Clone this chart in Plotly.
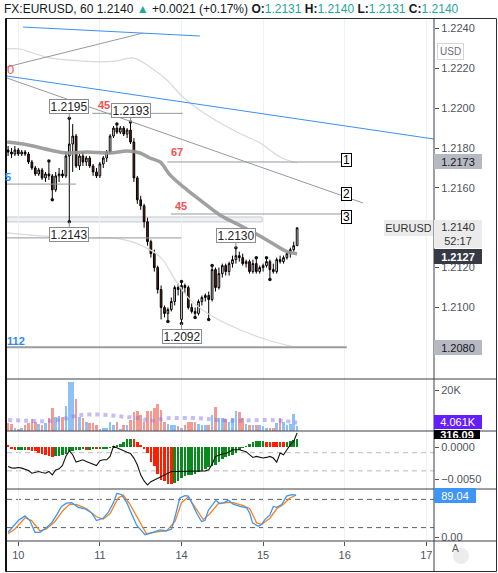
import plotly.graph_objects as go

FONT = "Liberation Sans, Arial, sans-serif"
TXT = "#50535e"
GRID = "#eef0f3"
TEAL = "#26a69a"
RED_LBL = "#f0524f"
BLUE_LBL = "#2f8af5"

# ---------------- EURUSD hourly candles (hour 0 = 10 Dec, 00:00) ----------------
hours = list(range(-3, 83))
opens = [1.2179, 1.2178, 1.2177, 1.2179, 1.2177, 1.2178, 1.2177, 1.2173, 1.2170, 1.2167,
         1.2169, 1.2165, 1.2167, 1.2166, 1.2159, 1.2166, 1.2167, 1.2166, 1.2176, 1.2182,
         1.2186, 1.2171, 1.2176, 1.2173, 1.2175, 1.2171, 1.2168, 1.2166, 1.2172, 1.2175,
         1.2178, 1.2186, 1.2190, 1.2188, 1.2190, 1.2187, 1.2189, 1.2183, 1.2165, 1.2154,
         1.2151, 1.2143, 1.2133, 1.2127, 1.2120, 1.2109, 1.2100, 1.2097, 1.2099, 1.2103,
         1.2110, 1.2094, 1.2111, 1.2110, 1.2100, 1.2098, 1.2097, 1.2103, 1.2105, 1.2106,
         1.2104, 1.2119, 1.2110, 1.2117, 1.2121, 1.2118, 1.2122, 1.2124, 1.2126, 1.2125,
         1.2122, 1.2123, 1.2118, 1.2122, 1.2118, 1.2120, 1.2121, 1.2123, 1.2119, 1.2118,
         1.2124, 1.2123, 1.2125, 1.2127, 1.2129, 1.2131]
highs = [1.2181, 1.2180, 1.2181, 1.2180, 1.2179, 1.2179, 1.2178, 1.2174, 1.2171, 1.2170,
         1.2170, 1.2168, 1.21735, 1.2167, 1.2168, 1.2170, 1.2169, 1.2178, 1.2195, 1.2192,
         1.2187, 1.2177, 1.2178, 1.2176, 1.2176, 1.2172, 1.2170, 1.2173, 1.2176, 1.2179,
         1.2187, 1.2191, 1.2192, 1.2191, 1.2191, 1.2190, 1.2193, 1.2185, 1.2166, 1.2156,
         1.2152, 1.2145, 1.2134, 1.2129, 1.2121, 1.2111, 1.2101, 1.2100, 1.2105, 1.2111,
         1.2112, 1.2113, 1.2112, 1.2111, 1.2102, 1.2100, 1.2104, 1.2106, 1.2107, 1.2108,
         1.2121, 1.2120, 1.2120, 1.2122, 1.2122, 1.2123, 1.2126, 1.2130, 1.2128, 1.2127,
         1.2124, 1.2124, 1.2124, 1.2125, 1.2121, 1.2122, 1.2125, 1.2124, 1.2122, 1.2125,
         1.2126, 1.2126, 1.2128, 1.2130, 1.2133, 1.2140]
lows = [1.2176, 1.2175, 1.2176, 1.2176, 1.2176, 1.2176, 1.2172, 1.2169, 1.2166, 1.2166,
        1.2164, 1.2163, 1.2164, 1.2154, 1.2158, 1.2163, 1.2165, 1.2165, 1.2143, 1.2168,
        1.2170, 1.2169, 1.2171, 1.2171, 1.2170, 1.2166, 1.2165, 1.2165, 1.2170, 1.2173,
        1.2177, 1.2185, 1.2187, 1.2187, 1.2186, 1.2185, 1.2182, 1.2163, 1.2152, 1.2149,
        1.2140, 1.2131, 1.2125, 1.2118, 1.2107, 1.2094, 1.2095, 1.2093, 1.2098, 1.2101,
        1.2106, 1.2092, 1.2107, 1.2099, 1.2097, 1.2095, 1.2096, 1.2101, 1.2103, 1.2094,
        1.2103, 1.2108, 1.2109, 1.2115, 1.2116, 1.2116, 1.2120, 1.2122, 1.2123, 1.2121,
        1.2120, 1.2117, 1.2117, 1.2117, 1.2117, 1.2118, 1.2120, 1.2114, 1.2117, 1.2117,
        1.2122, 1.2122, 1.2124, 1.2125, 1.2128, 1.2131]
closes = [1.2178, 1.2177, 1.2179, 1.2177, 1.2178, 1.2177, 1.2173, 1.2170, 1.2167, 1.2169,
          1.2165, 1.2167, 1.2166, 1.2159, 1.2166, 1.2167, 1.2166, 1.2176, 1.2182, 1.2186,
          1.2171, 1.2176, 1.2173, 1.2175, 1.2171, 1.2168, 1.2166, 1.2172, 1.2175, 1.2178,
          1.2186, 1.2190, 1.2188, 1.2190, 1.2187, 1.2189, 1.2183, 1.2165, 1.2154, 1.2151,
          1.2143, 1.2133, 1.2127, 1.2120, 1.2109, 1.2100, 1.2097, 1.2099, 1.2103, 1.2110,
          1.2109, 1.2111, 1.2110, 1.2100, 1.2098, 1.2097, 1.2103, 1.2105, 1.2106, 1.2104,
          1.2119, 1.2110, 1.2117, 1.2121, 1.2118, 1.2122, 1.2124, 1.2126, 1.2125, 1.2122,
          1.2123, 1.2118, 1.2122, 1.2118, 1.2120, 1.2121, 1.2123, 1.2119, 1.2118, 1.2124,
          1.2123, 1.2125, 1.2127, 1.2129, 1.2131, 1.2140]
prev_day_close = 1.2119

# moving average and bands (hour, price)
ma_hours = [-3.3, 2.9, 9.3, 14.3, 20.2, 27, 32, 35.8, 38.7, 41.7, 44.6, 49.6, 53.4, 59.3, 66.1, 73.1, 79, 82]
ma_values = [1.2183, 1.21815, 1.2179, 1.21775, 1.2178, 1.21775, 1.21785, 1.21775, 1.2175, 1.2173,
             1.21665, 1.2159, 1.2154, 1.21464, 1.21404, 1.21339, 1.2128, 1.2127]
bb_up_hours = [-3.3, 0.5, 4.3, 9.3, 14.3, 24, 29, 33.7, 38.7, 43.7, 48.4, 53.4, 63.1, 71.1, 77, 82]
bb_up = [1.22297, 1.22297, 1.22277, 1.22252, 1.22242, 1.22232, 1.22237, 1.22252, 1.22207, 1.22141,
         1.22056, 1.2199, 1.2189, 1.21825, 1.21755, 1.21725]
bb_lo_hours = [-3.3, 6.4, 18.1, 29.9, 35.8, 41.7, 46.7, 50.6, 57.3, 65.2, 73.1, 82]
bb_lo = [1.21374, 1.21359, 1.21349, 1.21344, 1.21314, 1.21254, 1.21124, 1.21038, 1.20953, 1.20888,
         1.20838, 1.20798]

# volume (thousands) and its average
volume_k = [3.7, 3.3, 1.3, 1.0, 1.3, 2.9, 3.7, 5.7, 4.6, 3.3,
            2.9, 3.7, 6.5, 11.0, 7.0, 7.5, 6.7, 12.4, 23.7, 23.7,
            15.6, 7.0, 6.5, 4.6, 3.7, 3.7, 2.9, 1.0, 1.6, 1.6,
            4.6, 2.9, 4.6, 0.5, 2.9, 2.9, 5.4, 9.4, 9.8, 7.8,
            4.6, 9.8, 9.8, 11.0, 13.0, 10.2, 4.6, 3.3, 2.9, 2.9,
            2.6, 1.3, 2.9, 4.6, 4.6, 4.6, 3.3, 2.9, 2.9, 2.9,
            7.8, 11.9, 6.5, 6.2, 5.9, 4.6, 6.5, 9.8, 9.1, 6.2,
            3.3, 2.9, 2.9, 2.9, 2.9, 2.4, 1.6, 1.6, 1.3, 3.7,
            6.2, 4.6, 2.9, 3.3, 8.1, 2.6]
vol_ma_hours = [-3, 4.4, 9.3, 14.2, 17.2, 21.1, 26, 30.9, 35.8, 38.7, 43.6, 53.4, 58.3, 63.2, 73, 77.9, 82]
vol_ma_k = [5.4, 4.9, 4.9, 6.2, 7.5, 8.1, 7.8, 7.0, 6.2, 5.0, 6.2, 6.2, 5.4, 5.0, 5.4, 5.0, 4.061]

# MACD histogram (x 1e-4) and CCI
macd_hist_e4 = [3, -3, -4.5, -4.5, -4.2, -4, -4.5, -6, -7, -9,
                -11, -13, -14, -15, -14.5, -14, -13, -11, -7, -6,
                -5, -4, -3, -4.5, -4, -3.5, -3.8, -3.5, -3, -2,
                -1, 1, 3, 5, 8, 12, 12.5, 12.3, 8, 3,
                -2, -9, -23, -30, -42, -51, -53, -58, -58.5, -56,
                -53, -49, -46, -44, -43, -42, -39, -37, -35, -32,
                -30, -28, -23, -19, -16, -14, -12, -9, -4, -1.5,
                1.5, 5, 8, 9, 9.2, 9.4, 8.4, 8.2, 8.0, 7.8,
                7.6, 7.2, 8, 9.5, 11, 12.5]
cci = [-52, -67, -70, -63, -70, -81, -96, -126, -118, -107,
       -118, -126, -107, -144, -89, -78, -41, 59, 122, 78,
       -4, 11, 22, 4, -11, -26, -41, 11, 22, 22,
       59, 170, 152, 133, 115, 104, 92, 41, -33, -144,
       -211, -256, -219, -200, -181, -163, -137, -118, -107, -107,
       -107, -107, -107, -107, -107, -107, -107, -105, -100, -89,
       -26, 59, 74, 85, 92, 107, 133, 133, 133, 122,
       111, 78, 48, 59, 48, 41, 48, 59, 41, -4,
       96, 78, 133, 189, 226, 316.09]

# stochastic %K / %D
stoch_k_hours = [-3.0, -1.5, 0, 2, 3.4, 4.9, 6.4, 8.3, 9.8, 11.3, 12.7, 14.2, 15.7, 17.6, 19.6, 21.6,
                 23, 25, 26.5, 28, 29, 30.4, 31.9, 33.3, 34.8, 36.3, 37.3, 39.2, 41.7, 43.6, 45.1,
                 46.1, 47.5, 49, 50, 51, 52.5, 53.9, 54.9, 55.9, 56.9, 58.1, 59.3, 60.5, 61.8, 63.2,
                 65.2, 67.2, 68.1, 68.9, 70.6, 71.6, 72.5, 74, 75, 76, 77.5, 78.9, 80.4, 81.7]
stoch_k = [10, 23, 35, 45, 35, 10, 10, 20, 30, 47, 65, 72, 73, 63, 60, 51,
           35, 40, 53, 73, 93, 90, 73, 50, 25, 13, 5, 9, 15, 13, 17,
           43, 83, 88, 87, 73, 50, 33, 35, 57, 67, 78, 71, 73, 78, 70,
           65, 62, 50, 30, 23, 27, 37, 47, 65, 63, 69, 87, 90, 89.04]
stoch_d_hours = [-3.0, -1.0, 2.0, 3.9, 6.4, 8.3, 10.8, 13.2, 15.2, 17.2, 20.1, 23.0, 25.0, 27.0,
                 29.4, 30.9, 32.8, 35.3, 37.7, 40.7, 43.6, 46.1, 48.0, 50.0, 52.0, 54.4, 56.4,
                 58.8, 61.3, 63.2, 66.2, 68.1, 70.1, 71.6, 74.0, 76.0, 77.9, 79.9, 81.7]
stoch_d = [7, 17, 41, 35, 13, 17, 33, 57, 70, 69, 60, 43, 38, 50,
           83, 89, 70, 37, 7, 11, 13, 33, 73, 85, 63, 37, 50,
           71, 73, 73, 67, 60, 30, 27, 40, 60, 69, 83, 89]

# axis ticks
day_ticks = [0, 24, 48, 72, 96, 120]
day_labels = ["10", "11", "14", "15", "16", "17"]
price_ticks = [1.2080, 1.2100, 1.2120, 1.2140, 1.2160, 1.2180, 1.2200, 1.2220, 1.2240]

# chart drawings in (hour, price)
trend_lines = [
    (1.4, 1.22407, 53.4, 1.22362, "#3d8ff2", 1),
    (-3.3, 1.22207, 36.7, 1.22377, "#9598a1", 1),
    (-3.3, 1.22161, 122.3, 1.21845, "#3d8ff2", 1),
    (-3.3, 1.22151, 101.4, 1.21524, "#9598a1", 1),
    (21.7, 1.21974, 48.4, 1.21974, "#9598a1", 1),
    (43.8, 1.2173, 95.2, 1.2173, "#9598a1", 1),
    (44.9, 1.21469, 95.5, 1.21469, "#9598a1", 1),
    (-3.3, 1.21619, 17.0, 1.21619, "#9598a1", 1),
    (-3.3, 1.21349, 47.9, 1.21349, "#9598a1", 1),
    (-3.3, 1.2080, 96.6, 1.2080, "#9a9ca4", 2),
]
level_band = (-3.3, 1.21429, 71.7, 1.21454)
level_labels = [
    ("0", -2.4, 1.22196, RED_LBL, False, 13),
    ("45", 25.1, 1.22016, RED_LBL, True, 11),
    ("67", 46.7, 1.21778, RED_LBL, True, 11),
    ("45", 47.9, 1.21507, RED_LBL, True, 11),
    ("5", -3.0, 1.21657, BLUE_LBL, True, 11),
    ("112", -0.8, 1.20832, BLUE_LBL, True, 11),
]
marker_boxes = [("1", 96.5, 1.21740), ("2", 96.5, 1.21567), ("3", 96.5, 1.21454)]
callouts = [(15, "high"), (33, "high"), (15, "low"), (64, "high"), (48, "low")]

# ---------------- geometry helpers (pixel -> paper) ----------------
W, H = 498, 573
ML, MR, MT, MB = 7, 64, 19, 32
PW, PH = W - ML - MR, H - MT - MB


def px(x):
    return (x - ML) / PW


def py(y):
    return (H - MB - y) / PH


X_RANGE = [-3.32, 122.26]

fig = go.Figure()

# price pane
fig.add_trace(go.Scatter(x=bb_up_hours, y=bb_up, mode="lines", line=dict(color="#d9d9d9", width=1.2, shape="spline"),
                         xaxis="x", yaxis="y", hoverinfo="skip"))
fig.add_trace(go.Scatter(x=bb_lo_hours, y=bb_lo, mode="lines", line=dict(color="#d9d9d9", width=1.2, shape="spline"),
                         xaxis="x", yaxis="y", hoverinfo="skip"))
fig.add_trace(go.Scatter(x=ma_hours, y=ma_values, mode="lines",
                         line=dict(color="rgba(150,150,150,0.9)", width=3.5, shape="spline"),
                         xaxis="x", yaxis="y", hoverinfo="skip"))
fig.add_trace(go.Candlestick(
    x=hours, open=opens, high=highs, low=lows, close=closes, xaxis="x", yaxis="y",
    increasing=dict(line=dict(color="#000000", width=1), fillcolor="#ffffff"),
    decreasing=dict(line=dict(color="#000000", width=1), fillcolor="#6e1f12"),
    whiskerwidth=0, hoverinfo="skip"))

# fractal dots on swing highs / lows
fx, fy = [], []
n = len(hours)
for i in range(2, n - 2):
    if all(highs[i] > highs[j] for j in (i - 2, i - 1, i + 1, i + 2)):
        fx.append(hours[i]); fy.append(highs[i])
    if all(lows[i] < lows[j] for j in (i - 2, i - 1, i + 1, i + 2)):
        fx.append(hours[i]); fy.append(lows[i])
fig.add_trace(go.Scatter(x=fx, y=fy, mode="markers", marker=dict(color="#111111", size=3.5),
                         xaxis="x", yaxis="y", hoverinfo="skip"))

# volume pane
vol_colors = ["#8fc0f6" if c >= o else "#f59a90" for o, c in zip(opens, closes)]
fig.add_trace(go.Bar(x=hours, y=[v * 1000 for v in volume_k], marker=dict(color=vol_colors, line=dict(width=0)),
                     width=0.72, xaxis="x2", yaxis="y2", hoverinfo="skip"))
fig.add_trace(go.Scatter(x=vol_ma_hours, y=[v * 1000 for v in vol_ma_k], mode="lines",
                         line=dict(color="rgba(125,110,235,0.45)", width=4, dash="dot", shape="spline"),
                         xaxis="x2", yaxis="y2", hoverinfo="skip"))

# MACD histogram + CCI pane
hist_colors = []
for i, v in enumerate(macd_hist_e4):
    hist_colors.append("#0a8a1e" if i > 0 and v >= macd_hist_e4[i - 1] else "#ff1e00")
fig.add_trace(go.Bar(x=hours, y=[v * 1e-4 for v in macd_hist_e4], marker=dict(color=hist_colors, line=dict(width=0)),
                     width=0.72, xaxis="x3", yaxis="y3", hoverinfo="skip"))
fig.add_trace(go.Scatter(x=hours, y=cci, mode="lines", line=dict(color="#111111", width=1.1),
                         xaxis="x3", yaxis="y5", hoverinfo="skip"))

# stochastic pane
fig.add_trace(go.Scatter(x=stoch_d_hours, y=stoch_d, mode="lines", line=dict(color="#f5821f", width=1.3),
                         xaxis="x4", yaxis="y4", hoverinfo="skip"))
fig.add_trace(go.Scatter(x=stoch_k_hours, y=stoch_k, mode="lines", line=dict(color="#3f95f6", width=1.3),
                         xaxis="x4", yaxis="y4", hoverinfo="skip"))

# ---------------- shapes ----------------
shapes = []
for h0, p0, h1, p1, col, w in trend_lines:
    shapes.append(dict(type="line", xref="x", yref="y", x0=h0, y0=p0, x1=h1, y1=p1,
                       line=dict(color=col, width=w), layer="above"))
bx0, by0, bx1, by1 = level_band
shapes.append(dict(type="rect", xref="x", yref="y", x0=bx0, y0=by0, x1=bx1, y1=by1,
                   fillcolor="#eef0f4", line=dict(color="#c6c8ce", width=1), layer="below"))
for lvl in (100, -100):
    shapes.append(dict(type="line", xref="x3", yref="y5", x0=X_RANGE[0], x1=X_RANGE[1], y0=lvl, y1=lvl,
                       line=dict(color="#b8bac0", width=1, dash="5px,4px"), layer="below"))
for lvl in (80, 20):
    shapes.append(dict(type="line", xref="x4", yref="y4", x0=X_RANGE[0], x1=X_RANGE[1], y0=lvl, y1=lvl,
                       line=dict(color="#5d606b", width=1, dash="5px,4px"), layer="below"))
# pane separators, price-scale border and outer frame
for ysep in (379, 431, 489, 541):
    shapes.append(dict(type="line", xref="paper", yref="paper", x0=px(7), x1=px(496.5), y0=py(ysep), y1=py(ysep),
                       line=dict(color="#3c3f48", width=1)))
shapes.append(dict(type="line", xref="paper", yref="paper", x0=px(434), x1=px(434), y0=py(571.5), y1=py(18.5),
                   line=dict(color="#3c3f48", width=1)))
shapes.append(dict(type="rect", xref="paper", yref="paper", x0=px(5.5), x1=px(496.5), y0=py(571.5), y1=py(18.5),
                   line=dict(color="#2a2e39", width=1)))
shapes.append(dict(type="line", xref="paper", yref="paper", x0=px(6), x1=px(6), y0=py(571.5), y1=py(18.5),
                   line=dict(color="#111111", width=2)))
shapes.append(dict(type="circle", xref="paper", yref="paper", x0=px(453), x1=px(469), y0=py(564), y1=py(548),
                   fillcolor="#ececec", line=dict(width=0)))

# ---------------- annotations ----------------
ann = []
last_o, last_h, last_l, last_c = opens[-1], highs[-1], lows[-1], closes[-1]
chg = last_c - prev_day_close
pct = chg / prev_day_close * 100
tv = lambda v: f'<span style="color:{TEAL}">{v:.4f}</span>'
header = (f'FX:EURUSD, 60 {last_c:.4f} <span style="color:{TEAL}">▲</span> {chg:+.4f} ({pct:+.2f}%) '
          f'<b>O:</b>{tv(last_o)} <b>H:</b>{tv(last_h)} <b>L:</b>{tv(last_l)} <b>C:</b>{tv(last_c)}')
ann.append(dict(text=header, xref="paper", yref="paper", x=px(2), y=py(9.5), xanchor="left", yanchor="middle",
                showarrow=False, font=dict(family=FONT, size=12, color="#131722")))

for h, kind in callouts:
    i = hours.index(h)
    val = highs[i] if kind == "high" else lows[i]
    ann.append(dict(text=f"{val:.4f}", x=h, y=val, xref="x", yref="y", showarrow=True, arrowhead=0,
                    arrowwidth=1, arrowcolor="#8a8c94", ax=0, ay=-12 if kind == "high" else 13,
                    bgcolor="#ffffff", bordercolor="#8a8c94", borderwidth=1, borderpad=0, width=38, height=13,
                    font=dict(family=FONT, size=12, color="#222222")))

for txt, h, p, col, bold, size in level_labels:
    ann.append(dict(text=f"<b>{txt}</b>" if bold else txt, x=h, y=p, xref="x", yref="y", showarrow=False,
                    font=dict(family=FONT, size=size, color=col)))

for txt, h, p in marker_boxes:
    ann.append(dict(text=txt, x=h, y=p, xref="x", yref="y", showarrow=False, bgcolor="#ffffff",
                    bordercolor="#000000", borderwidth=1, borderpad=0, width=9, height=12,
                    font=dict(family=FONT, size=12, color="#000000")))


def axis_box(yval, yref, text, bg, fg, width=44, height=11, yshift=0, bold=False, pad=1):
    return dict(text=f"<b>{text}</b>" if bold else text, xref="paper", x=px(434), xanchor="left",
                yref=yref, y=yval, yanchor="middle", yshift=yshift, showarrow=False, bgcolor=bg,
                borderpad=pad, borderwidth=1, bordercolor=bg, width=width, height=height, align="center",
                font=dict(family=FONT, size=11, color=fg))


ann.append(axis_box(1.2173, "y", "1.2173", "#b6b9c1", "#131722"))
ann.append(axis_box(1.2080, "y", "1.2080", "#b6b9c1", "#131722"))
cb = axis_box(last_c, "y", f"{last_c:.4f}<br>52:17", "#ebebeb", "#333333", height=24, yshift=8)
cb["yanchor"] = "top"
ann.append(cb)
ann.append(axis_box(ma_values[-1], "y", f"{ma_values[-1]:.4f}", "#363a45", "#ffffff", yshift=-3, bold=True))
ann.append(dict(text="EURUSD", xref="paper", x=px(433), xanchor="right", yref="y", y=last_c, showarrow=False,
                bgcolor="#ebebeb", bordercolor="#ebebeb", borderwidth=1, borderpad=1, width=45, height=12,
                font=dict(family=FONT, size=11, color="#333333")))
ann.append(dict(text="USD", xref="paper", yref="paper", x=px(463.5), y=py(43), showarrow=False,
                bgcolor="#ffffff", bordercolor="#d4d6db", borderwidth=1, borderpad=2,
                font=dict(family=FONT, size=10, color="#6a6d78")))
ann.append(axis_box(vol_ma_k[-1] * 1000, "y2", f"{vol_ma_k[-1]:.3f}K", "#651fff", "#ffffff", height=10, yshift=1))
ann.append(axis_box(cci[-1], "y5", f"{cci[-1]:.2f}", "#000000", "#ffffff", height=7, pad=0, yshift=-1.5, bold=True))
ann.append(axis_box(stoch_k[-1], "y4", f"{stoch_k[-1]:.2f}", "#3f95f6", "#ffffff", width=38))
ann.append(dict(text="A", xref="paper", yref="paper", x=px(461), y=py(556), showarrow=False,
                font=dict(family=FONT, size=10, color="#555555")))

# ---------------- axes ----------------
def xax(anchor, show_labels=False):
    d = dict(domain=[0, 1], anchor=anchor, range=X_RANGE, showgrid=True, gridcolor=GRID, gridwidth=1,
             zeroline=False, showline=False, tickvals=day_ticks, ticktext=day_labels,
             showticklabels=show_labels, ticks="outside" if show_labels else "", ticklen=4, tickcolor="#555555",
             tickfont=dict(family=FONT, size=11, color=TXT), fixedrange=True)
    if anchor != "y":
        d["matches"] = "x"
    return d


def yax(domain, rng, tickvals, ticktext, anchor):
    return dict(domain=domain, range=rng, side="right", anchor=anchor, tickvals=tickvals, ticktext=ticktext,
                ticks="outside", ticklen=4, tickcolor="#555555", showgrid=False, zeroline=False,
                showline=False, tickfont=dict(family=FONT, size=11, color=TXT), fixedrange=True)


main_lo = 1.2220 - (379 - 68.3) / 19930
main_hi = 1.2220 + (68.3 - 19) / 19930

fig.update_layout(
    width=W, height=H, autosize=False,
    margin=dict(l=ML, r=MR, t=MT, b=MB, pad=0),
    paper_bgcolor="#ffffff", plot_bgcolor="#ffffff",
    showlegend=False, bargap=0,
    xaxis=dict(xax("y"), rangeslider=dict(visible=False)),
    xaxis2=xax("y2"),
    xaxis3=xax("y3"),
    xaxis4=xax("y4", show_labels=True),
    yaxis=yax([py(379), 1], [main_lo, main_hi], price_ticks, [f"{t:.4f}" for t in price_ticks], "x"),
    yaxis2=yax([py(431), py(379)], [0, 25400], [20000], ["20K"], "x2"),
    yaxis3=yax([py(489), py(431)], [-0.00656, 0.0025], [0, -0.005], ["0.0000", "−0.0050"], "x3"),
    yaxis4=yax([0, py(489)], [-8.5, 102.1], [0], ["0.00"], "x4"),
    yaxis5=dict(overlaying="y3", range=[-300, 339], visible=False, fixedrange=True),
    shapes=shapes,
    annotations=ann,
    font=dict(family=FONT),
)

fig.write_html("out.html", config={"displayModeBar": False})
